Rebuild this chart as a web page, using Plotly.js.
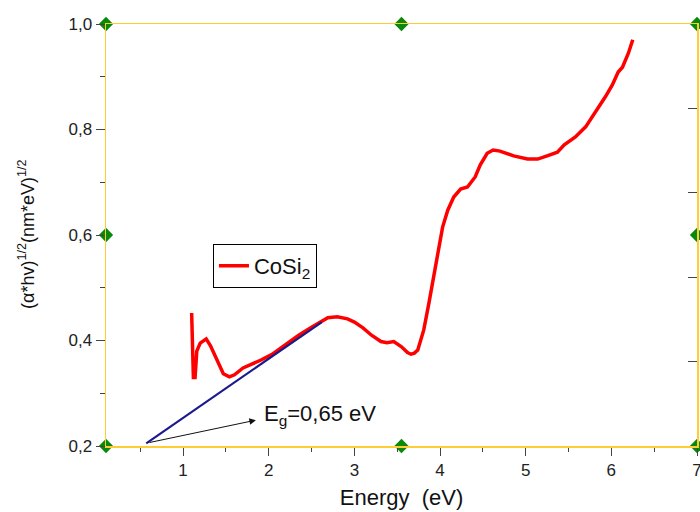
<!DOCTYPE html>
<html>
<head>
<meta charset="utf-8">
<script src="https://cdn.plot.ly/plotly-3.0.1.min.js"></script>
<style>html,body{margin:0;padding:0;background:#fff;}#chart{width:700px;height:512px;}</style>
</head>
<body>
<div id="chart"></div>
<script>
// CoSi2 curve
const energy = [1.10,1.11,1.12,1.14,1.16,1.20,1.27,1.32,1.40,1.47,1.54,1.60,1.70,1.80,1.91,2.05,2.22,2.35,2.49,2.60,2.69,2.80,2.92,3.00,3.10,3.20,3.31,3.38,3.46,3.55,3.62,3.66,3.70,3.74,3.81,3.87,3.91,3.95,3.98,4.03,4.09,4.16,4.24,4.32,4.41,4.47,4.55,4.62,4.70,4.86,5.02,5.14,5.25,5.37,5.45,5.58,5.70,5.79,5.85,5.93,6.01,6.08,6.13,6.20,6.25];
const signal = [0.452,0.40,0.33,0.33,0.38,0.395,0.403,0.39,0.36,0.337,0.331,0.335,0.348,0.355,0.363,0.375,0.395,0.41,0.424,0.435,0.443,0.445,0.441,0.435,0.424,0.410,0.398,0.396,0.398,0.388,0.377,0.374,0.376,0.382,0.42,0.471,0.509,0.547,0.572,0.615,0.647,0.672,0.687,0.691,0.71,0.733,0.755,0.761,0.759,0.750,0.744,0.744,0.75,0.757,0.771,0.786,0.805,0.827,0.841,0.862,0.884,0.909,0.918,0.945,0.970];
// tangent (fit) line
const fitX = [0.57, 2.62];
const fitY = [0.205, 0.435];
// frame handle markers
const handleX = [0.1, 3.55, 7, 0.1, 7, 0.1, 3.55, 7];
const handleY = [1.0, 1.0, 1.0, 0.6, 0.6, 0.2, 0.2, 0.2];
// arrow (tail -> head) and label
const arrowTail = [0.59, 0.206];
const arrowHead = [1.85, 0.249];
const eqLabel = 'E<sub>g</sub>=0,65 eV';
const seriesName = 'CoSi<sub>2</sub>';
const yTitle = '(α*hv)<sup>1/2</sup>(nm*eV)<sup>1/2</sup>';

const FONT = 'Liberation Sans, Arial, sans-serif';
const AXC = '#FFCC33';

const traces = [
  {x: energy, y: signal, mode: 'lines', name: seriesName,
   line: {color: '#FF0000', width: 3.5}, showlegend: true},
  {x: fitX, y: fitY, mode: 'lines', showlegend: false,
   line: {color: '#1A1A8C', width: 2.2}},
  {x: handleX, y: handleY, mode: 'markers', showlegend: false, cliponaxis: false,
   marker: {symbol: 'diamond', size: 11, color: '#0A880A', line: {width: 0}}},
  {x: [], y: [], yaxis: 'y2', showlegend: false, hoverinfo: 'skip'}
];

const layout = {
  width: 700, height: 512,
  margin: {l: 106, r: 3, t: 24, b: 66},
  paper_bgcolor: '#fff', plot_bgcolor: '#fff',
  separators: ', ',
  font: {family: FONT, color: '#222'},
  showlegend: true,
  legend: {x: 0.181, y: 0.479, xanchor: 'left', yanchor: 'top',
    bgcolor: '#fff', bordercolor: '#000', borderwidth: 1,
    font: {family: FONT, size: 22, color: '#111'}},
  xaxis: {range: [0.1, 7], tickvals: [1,2,3,4,5,6,7], ticks: 'outside', ticklen: 8, tickwidth: 1,
    tickcolor: '#444', minor: {dtick: 0.5, tick0: 0, ticks: 'outside', ticklen: 4, tickcolor: '#444'},
    showline: true, linecolor: AXC, linewidth: 1.5, mirror: true,
    showgrid: false, zeroline: false, ticklabeloverflow: 'allow',
    tickfont: {family: FONT, size: 17, color: '#222'},
    title: {text: 'Energy  (eV)', font: {family: FONT, size: 22, color: '#111'}, standoff: 10}},
  yaxis: {range: [0.2, 1.0], tickvals: [0.2,0.4,0.6,0.8,1.0], ticks: 'outside', ticklen: 9, tickwidth: 1,
    tickcolor: '#444', minor: {dtick: 0.1, tick0: 0, ticks: 'outside', ticklen: 5, tickcolor: '#444'},
    tickformat: '.1f', ticklabeloverflow: 'allow',
    showline: true, linecolor: AXC, linewidth: 1.5, mirror: true,
    showgrid: false, zeroline: false,
    tickfont: {family: FONT, size: 17, color: '#222'}},
  yaxis2: {overlaying: 'y', side: 'right', range: [0, 5], tickvals: [1,2,3,4], ticks: 'inside',
    ticklen: 9, tickwidth: 1, tickcolor: '#444', showticklabels: false, showgrid: false,
    zeroline: false, showline: false},
  annotations: [
    {x: arrowHead[0], y: arrowHead[1], ax: arrowTail[0], ay: arrowTail[1], xref: 'x', yref: 'y',
     axref: 'x', ayref: 'y', text: '', showarrow: true, arrowhead: 2, arrowsize: 1.3, arrowwidth: 1, arrowcolor: '#111'},
    {x: 1.92, y: 0.259, xref: 'x', yref: 'y', text: eqLabel, showarrow: false, xanchor: 'left',
     yanchor: 'middle', font: {family: FONT, size: 22, color: '#111'}},
    {x: 0, xref: 'paper', y: 0.50, yref: 'paper', text: yTitle, textangle: -90, showarrow: false,
     xanchor: 'center', yanchor: 'middle', font: {family: FONT, size: 18, color: '#111'}}
  ]
};
// place y title in pixel units relative to plot area
layout.annotations[2].x = (26 - 106) / (700 - 106 - 3);

Plotly.newPlot('chart', traces, layout, {displayModeBar: false, staticPlot: true});
</script>
</body>
</html>
